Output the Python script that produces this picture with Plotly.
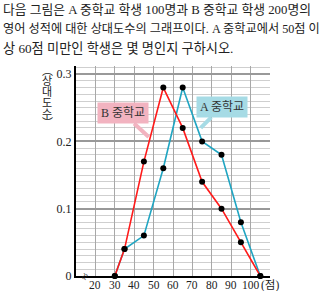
import plotly.graph_objects as go

# data
scores = [30, 35, 45, 55, 65, 75, 85, 95, 105]
school_a = [0, 0.04, 0.06, 0.16, 0.28, 0.20, 0.18, 0.08, 0]
school_b = [0, 0.04, 0.17, 0.28, 0.22, 0.14, 0.10, 0.05, 0]
x_tick_vals = [20, 30, 40, 50, 60, 70, 80, 90, 100, 110]
x_tick_text = ["20", "30", "40", "50", "60", "70", "80", "90", "100", ""]
y_tick_vals = [0, 0.1, 0.2, 0.3]
y_tick_text = ["0", "0.1", "0.2", "0.3"]
y_title_chars = ["︵", "상", "대", "도", "수", "︶"]
question = ["다음 그림은 A 중학교 학생 100명과 B 중학교 학생 200명의",
            "영어 성적에 대한 상대도수의 그래프이다. A 중학교에서 50점 이",
            "상 60점 미만인 학생은 몇 명인지 구하시오."]

FONT = "Liberation Serif, Noto Sans CJK KR"
RED = "#ff1a1a"
BLUE = "#1fa5c2"
PLOT_H = 210
PLOT_W = 194

fig = go.Figure()
fig.add_trace(go.Scatter(x=scores, y=school_a, mode="lines+markers",
                         line=dict(color=BLUE, width=1.6),
                         marker=dict(color="black", size=6), name="A 중학교",
                         cliponaxis=False))
fig.add_trace(go.Scatter(x=scores, y=school_b, mode="lines+markers",
                         line=dict(color=RED, width=1.6),
                         marker=dict(color="black", size=6), name="B 중학교",
                         cliponaxis=False))

fig.update_layout(
    width=320, height=291,
    margin=dict(l=76, r=50, t=66, b=15),
    paper_bgcolor="white", plot_bgcolor="white",
    showlegend=False,
    font=dict(family=FONT, size=12, color="#222"),
    xaxis=dict(range=[10, 110], tickvals=x_tick_vals, ticktext=x_tick_text,
               showticklabels=False,
               showgrid=True, gridcolor="#a8a8a8", gridwidth=1,
               showline=True, linecolor="black", linewidth=2,
               zeroline=False, ticks="", automargin=False),
    yaxis=dict(range=[0, 0.312], tickvals=y_tick_vals, ticktext=y_tick_text,
               showgrid=True, gridcolor="#999999", gridwidth=1.5,
               minor=dict(tickmode="linear", dtick=0.01, tick0=0, showgrid=True,
                          gridcolor="#cfcfcf", gridwidth=1),
               showline=True, linecolor="black", linewidth=2,
               zeroline=False, ticks="", automargin=False,
               tickfont=dict(size=12, family=FONT)),
)

# x tick labels (placed on the x scale)
for v, t in zip(x_tick_vals, x_tick_text):
    if t:
        fig.add_annotation(xref="x", yref="paper", x=v, y=0, yanchor="top",
                           text=t, showarrow=False, yshift=-1,
                           font=dict(size=11.5, family=FONT, color="#222"))
# unit label
fig.add_annotation(xref="x", yref="paper", x=104.5, y=0, xanchor="left", yanchor="top",
                   text="(점)", showarrow=False, yshift=-1,
                   font=dict(size=11.5, family=FONT, color="#222"))

# question text
line_sizes = [12.8, 12.2, 13.2]
for i, line in enumerate(question):
    fig.add_annotation(xref="paper", yref="paper", x=-75.5 / PLOT_W, y=1 + (56 - 19 * i) / PLOT_H,
                       xanchor="left", yanchor="middle", text=line, showarrow=False,
                       font=dict(size=line_sizes[i], family=FONT, color="#222"))

# y-axis title (vertical, stacked)
title_y = [69.5, 79.5, 90.5, 101.5, 112.5, 122.5]
for ch, py in zip(y_title_chars, title_y):
    fig.add_annotation(xref="paper", yref="paper", x=-29 / PLOT_W, y=1 - (py - 66) / PLOT_H,
                       xanchor="center", yanchor="middle", text=ch, showarrow=False,
                       font=dict(size=11, family="Noto Sans CJK KR", color="#222"))

# axis break symbol
fig.add_annotation(xref="x", yref="paper", x=14.6, y=0, yanchor="middle", text="≈",
                   showarrow=False, textangle=-65, font=dict(size=12, color="#222"))

# callouts
fig.add_annotation(x=47.5, y=0.2065, xref="x", yref="y", ax=-26, ay=-24,
                   text="B 중학교", showarrow=True, arrowhead=0, arrowwidth=4,
                   arrowcolor="#f2b3c0", bgcolor="#f2b3c0", borderpad=3,
                   font=dict(size=12, family=FONT, color="#333"))
fig.add_annotation(x=74.3, y=0.22, xref="x", yref="y", ax=21, ay=-21,
                   text="A 중학교", showarrow=True, arrowhead=0, arrowwidth=4,
                   arrowcolor="#a6dbe5", bgcolor="#a6dbe5", borderpad=3,
                   font=dict(size=12, family=FONT, color="#333"))

fig.write_html("out.html")
